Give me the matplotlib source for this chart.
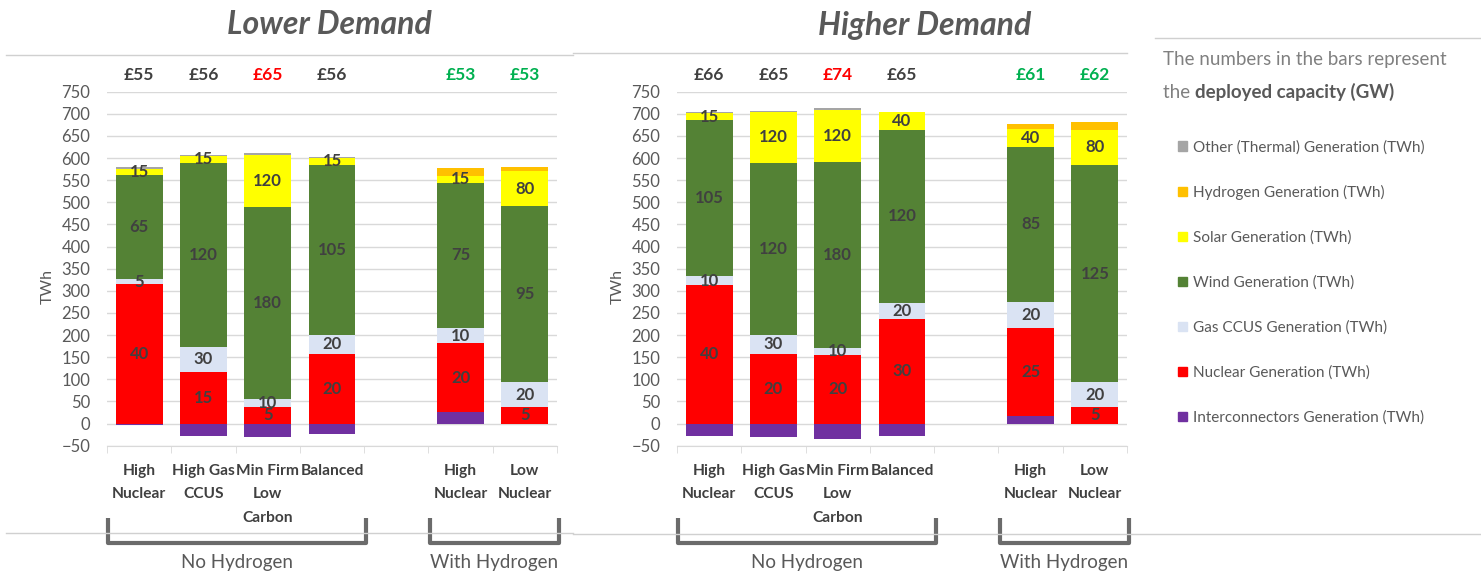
import matplotlib
matplotlib.use("Agg")
import matplotlib.pyplot as plt
from matplotlib.lines import Line2D
from matplotlib.patches import Patch
import numpy as np

plt.rcParams['font.family'] = ['Lato', 'DejaVu Sans']

# categories and groups
categories = ["High\nNuclear", "High Gas\nCCUS", "Min Firm\nLow\nCarbon", "Balanced",
              "High\nNuclear", "Low\nNuclear"]
positions = [0, 1, 2, 3, 5, 6]
groups = ["No Hydrogen", "With Hydrogen"]
group_members = [[0, 1, 2, 3], [4, 5]]

series_names = ["Interconnectors Generation (TWh)", "Nuclear Generation (TWh)",
                "Gas CCUS Generation (TWh)", "Wind Generation (TWh)",
                "Solar Generation (TWh)", "Hydrogen Generation (TWh)",
                "Other (Thermal) Generation (TWh)"]
series_colors = ["#7030A0", "#FF0000", "#DAE3F3", "#548235", "#FFFF00", "#FFC000", "#A5A5A5"]

# Lower demand (TWh)
lower_interconnectors = [-4, -27, -30, -23, 26, -1]
lower_nuclear = [315, 117, 38, 158, 156, 38]
lower_gas = [12, 56, 17, 42, 34, 55]
lower_wind = [234, 417, 434, 385, 328, 398]
lower_solar = [15, 15, 119, 16, 16, 79]
lower_hydrogen = [0, 0, 0, 0, 18, 10]
lower_other = [4, 2, 3, 2, 0, 0]
# deployed capacity labels (GW)
lower_nuclear_gw = [40, 15, 5, 20, 20, 5]
lower_gas_gw = [5, 30, 10, 20, 10, 20]
lower_wind_gw = [65, 120, 180, 105, 75, 95]
lower_solar_gw = [15, 15, 120, 15, 15, 80]
lower_prices = ["£55", "£56", "£65", "£56", "£53", "£53"]

# Higher demand (TWh)
higher_interconnectors = [-27, -30, -35, -29, 17, -2]
higher_nuclear = [313, 157, 156, 236, 199, 38]
higher_gas = [20, 44, 15, 37, 59, 55]
higher_wind = [352, 387, 420, 390, 350, 492]
higher_solar = [16, 117, 117, 40, 41, 79]
higher_hydrogen = [0, 0, 0, 0, 10, 18]
higher_other = [3, 1, 5, 1, 0, 0]
higher_nuclear_gw = [40, 20, 20, 30, 25, 5]
higher_gas_gw = [10, 30, 10, 20, 20, 20]
higher_wind_gw = [105, 120, 180, 120, 85, 125]
higher_solar_gw = [15, 120, 120, 40, 40, 80]
higher_prices = ["£66", "£65", "£74", "£65", "£61", "£62"]

price_colors = ["#404040", "#404040", "#FF0000", "#404040", "#00B050", "#00B050"]

W, H = 1481, 575
fig = plt.figure(figsize=(W / 100, H / 100), dpi=100)


def fx(px):
    return px / W


def fy(py):
    return 1 - py / H


def draw_panel(ax, series, labels, prices):
    pos_base = np.zeros(len(positions))
    neg_base = np.zeros(len(positions))
    mids = []
    for vals, color in zip(series, series_colors):
        vals = np.array(vals, dtype=float)
        bottoms = np.where(vals >= 0, pos_base, neg_base)
        ax.bar(positions, vals, bottom=bottoms, width=0.73, color=color, zorder=3)
        mids.append(bottoms + vals / 2)
        pos_base = pos_base + np.clip(vals, 0, None)
        neg_base = neg_base + np.clip(vals, None, 0)
    # GW labels on nuclear, gas, wind, solar
    for si, lab in zip([1, 2, 3, 4], labels):
        for x, m, t in zip(positions, mids[si], lab):
            ax.text(x, m, str(t), ha='center', va='center', fontsize=12,
                    fontweight='bold', color='#404040', zorder=4)
    ax.set_xlim(-0.5, 6.5)
    ax.set_ylim(-50, 750)
    ax.set_yticks(range(-50, 751, 50))
    ax.yaxis.grid(True, color='#D9D9D9', lw=1, zorder=0)
    for s in ['top', 'right', 'left']:
        ax.spines[s].set_visible(False)
    ax.spines['bottom'].set_color('#D9D9D9')
    ax.tick_params(axis='y', length=0, pad=12, labelsize=12, labelcolor='#595959')
    ax.set_xticks(positions)
    ax.set_xticklabels([])
    ax.tick_params(axis='x', which='major', length=0)
    ax.set_xticks(np.arange(-0.5, 7, 1), minor=True)
    ax.tick_params(axis='x', which='minor', length=5, color='#D9D9D9')
    ax.set_ylabel("TWh", fontsize=11.5, color='#595959')
    ax.yaxis.set_label_coords(-0.115, 0.45)
    tr = ax.get_xaxis_transform()
    for x, c in zip(positions, categories):
        ax.text(x, -0.052, c, transform=tr, ha='center', va='top', fontsize=11.2,
                fontweight='bold', color='#404040', linespacing=1.85)
    for x, p, c in zip(positions, prices, price_colors):
        ax.text(x, 1.047, p, transform=tr, ha='center', va='center', fontsize=12.5,
                fontweight='bold', color=c)
    # group brackets
    for g, members in zip(groups, group_members):
        x0 = positions[members[0]] - 0.48
        x1 = positions[members[-1]] + 0.53
        ax.plot([x0, x0, x1, x1], [-0.204, -0.275, -0.275, -0.204], transform=tr,
                color='#6B6B6B', lw=3, clip_on=False, solid_joinstyle='round',
                solid_capstyle='butt')
        ax.text((x0 + x1) / 2, -0.33, g, transform=tr, ha='center', va='center',
                fontsize=13.5, color='#595959')


ax1 = fig.add_axes([fx(107), fy(445.7), 450 / W, 354 / H])
ax2 = fig.add_axes([fx(677), fy(445.7), 450 / W, 354 / H])

lower_series = [lower_interconnectors, lower_nuclear, lower_gas, lower_wind,
                lower_solar, lower_hydrogen, lower_other]
higher_series = [higher_interconnectors, higher_nuclear, higher_gas, higher_wind,
                 higher_solar, higher_hydrogen, higher_other]
draw_panel(ax1, lower_series,
           [lower_nuclear_gw, lower_gas_gw, lower_wind_gw, lower_solar_gw], lower_prices)
draw_panel(ax2, higher_series,
           [higher_nuclear_gw, higher_gas_gw, higher_wind_gw, higher_solar_gw], higher_prices)

# titles
fig.text(fx(329), fy(25), "Lower Demand", ha='center', va='center', fontsize=23,
         fontweight='bold', fontstyle='italic', color='#595959')
fig.text(fx(925), fy(25), "Higher Demand", ha='center', va='center', fontsize=23,
         fontweight='bold', fontstyle='italic', color='#595959')

# panel separator lines
sep = '#D0D0D0'
for (xa, xb, y) in [(6, 573, 55), (573, 1127, 53), (1155, 1481, 38),
                    (6, 573, 533), (573, 1481, 534)]:
    fig.add_artist(Line2D([fx(xa), fx(xb)], [fy(y), fy(y)], transform=fig.transFigure,
                          color=sep, lw=1))

# legend header
fig.text(fx(1163), fy(60), "The numbers in the bars represent", ha='left',
         va='center', fontsize=13.5, color='#808080')
t2 = fig.text(fx(1163), fy(92), "the ", ha='left', va='center', fontsize=13.5,
              color='#808080')
fig.canvas.draw()
bb = t2.get_window_extent()
fig.text(bb.x1 / W, fy(92), "deployed capacity (GW)", ha='left', va='center',
         fontsize=13.5, fontweight='bold', color='#595959')

leg_handles = [Patch(color=c) for c in series_colors][::-1]
fig.legend(leg_handles, series_names[::-1], loc='upper left',
           bbox_to_anchor=(fx(1172), fy(134)), frameon=False, fontsize=11,
           labelcolor='#595959', handlelength=0.55, handleheight=0.55,
           handletextpad=0.45, labelspacing=2.0, borderaxespad=0)

fig.savefig("out.png", dpi=100, facecolor='white')
